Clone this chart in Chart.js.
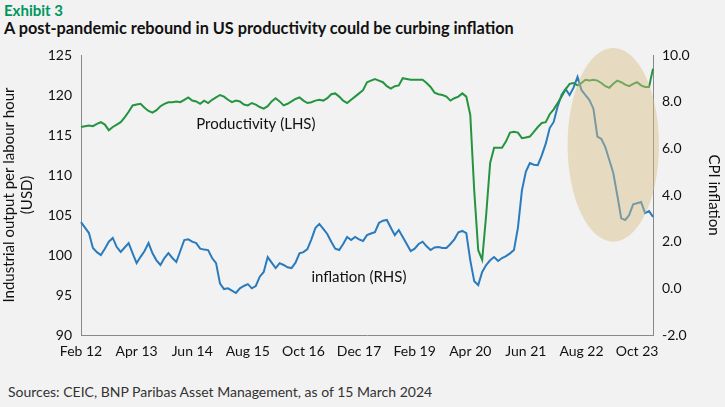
<!DOCTYPE html>
<html><head><meta charset="utf-8">
<script src="https://cdn.jsdelivr.net/npm/chart.js@4/dist/chart.umd.min.js"></script>
<style>
html,body{margin:0;padding:0;background:#f2f2f2;width:725px;height:407px;overflow:hidden;font-family:Lato,"Open Sans",sans-serif}
#t1{position:absolute;left:4px;top:1px;font-size:15px;font-weight:bold;color:#00965e}
#t2{position:absolute;left:4px;top:18px;font-size:16.3px;font-weight:bold;color:#111}
#src{position:absolute;left:8px;top:383px;font-size:14px;color:#333}
#wrap{position:absolute;left:0;top:40px;width:725px;height:330px}
</style></head><body>
<div id="t1">Exhibit 3</div>
<div id="t2">A post-pandemic rebound in US productivity could be curbing inflation</div>
<div id="wrap"><canvas id="c"></canvas></div>
<div id="src">Sources: CEIC, BNP Paribas Asset Management, as of 15 March 2024</div>
<script>
const monthNames=["Jan","Feb","Mar","Apr","May","Jun","Jul","Aug","Sep","Oct","Nov","Dec"];
const categories=[];
for(let i=0;i<145;i++){const m=(1+i)%12, y=12+Math.floor((1+i)/12);categories.push(monthNames[m]+" "+y);}
const productivity=[
116.0,116.1,116.2,116.1,116.4,116.6,116.3,115.6,116.0,116.3,
116.6,117.2,117.9,118.7,118.8,118.9,118.4,118.0,117.8,118.1,
118.6,118.9,119.1,119.1,119.2,119.1,119.4,119.7,119.3,119.2,
118.9,119.3,119.0,119.4,119.7,120.0,119.8,119.4,119.1,119.3,
119.2,118.8,118.7,119.0,118.8,118.5,118.3,118.6,119.2,119.6,
119.2,118.7,118.9,119.2,119.5,119.7,119.3,119.0,119.1,119.3,
119.4,119.3,119.6,120.1,120.2,119.8,119.3,119.0,119.4,119.8,
120.2,120.6,121.6,121.8,122.0,121.8,121.6,121.1,120.8,121.1,
121.2,122.1,122.0,121.9,121.9,121.9,121.9,121.5,121.0,120.3,
120.1,120.0,119.8,119.3,119.6,119.8,120.2,119.8,117.5,108.0,
100.6,99.4,105.0,111.5,113.4,113.4,113.4,114.2,115.3,115.4,
115.3,114.6,114.7,114.8,115.4,116.0,116.5,116.6,117.6,118.2,
119.0,119.8,120.7,121.4,121.5,121.2,121.5,121.9,121.8,121.9,
121.8,121.5,121.1,120.9,121.4,121.8,121.6,121.3,121.1,121.4,
121.6,121.2,121.0,121.0,123.3];
const inflation=[
2.84,2.6,2.37,1.73,1.55,1.43,1.7,2.0,2.16,1.77,
1.56,1.75,1.94,1.5,1.08,1.35,1.6,1.94,1.5,1.2,
1.0,1.3,1.51,1.3,1.13,1.6,2.07,2.1,2.0,1.94,
1.7,1.66,1.64,1.3,1.08,0.2,-0.03,0.0,-0.1,-0.2,
0.0,0.1,0.18,0.0,0.1,0.5,0.7,1.34,1.1,0.87,
1.08,1.0,0.9,0.87,1.1,1.5,1.55,1.68,2.1,2.58,
2.76,2.55,2.33,2.0,1.7,1.64,1.9,2.2,2.07,2.2,
2.1,2.03,2.28,2.35,2.41,2.8,2.9,2.93,2.6,2.28,
2.5,2.2,1.9,1.6,1.7,1.9,2.0,1.8,1.64,1.75,
1.77,1.73,1.73,1.9,2.1,2.4,2.46,2.37,1.2,0.3,
0.14,0.7,1.0,1.2,1.34,1.17,1.3,1.38,1.5,1.64,
2.6,4.2,5.0,5.37,5.3,5.28,5.7,6.2,6.87,7.13,
7.8,8.3,8.54,8.28,8.6,9.06,8.5,8.28,8.07,7.7,
6.5,6.4,6.05,5.5,4.94,4.0,3.0,2.93,3.14,3.6,
3.65,3.7,3.22,3.31,3.06];
const leftTicks=[90,95,100,105,110,115,120,125];
const rightTicks=[-2,0,2,4,6,8,10];

const overlay={id:'overlay',
 afterDatasetsDraw(ch){const {ctx,scales:{x,y,y2}}=ch;
  const cx=x.getPixelForValue(134), cy=y2.getPixelForValue(6.15);
  const rx=(x.getPixelForValue(145.5)-x.getPixelForValue(134)), ry=(y2.getPixelForValue(2.0)-cy);
  ctx.save();ctx.fillStyle='rgba(215,190,130,0.45)';ctx.beginPath();ctx.ellipse(cx,cy,rx,ry,0,0,Math.PI*2);ctx.fill();ctx.restore();
  ctx.save();ctx.font='15px Lato, "Open Sans", sans-serif';ctx.fillStyle='#111';ctx.textBaseline='middle';
  ctx.fillText('Productivity (LHS)',x.getPixelForValue(29),y.getPixelForValue(116.3));
  ctx.fillText('inflation (RHS)',x.getPixelForValue(58),y2.getPixelForValue(0.5));
  ctx.restore();}};

new Chart(document.getElementById('c'),{
 type:'line',
 data:{labels:categories,datasets:[
  {data:productivity,yAxisID:'y',borderColor:'#24943f',borderWidth:2,pointRadius:0,tension:0},
  {data:inflation,yAxisID:'y2',borderColor:'#2a7bbd',borderWidth:2,pointRadius:0,tension:0}]},
 options:{responsive:true,maintainAspectRatio:false,animation:false,
  layout:{padding:{top:15,left:0,right:0,bottom:0}},
  plugins:{legend:{display:false},tooltip:{enabled:false}},
  scales:{
   x:{offset:false,grid:{display:false,drawTicks:false},border:{color:'#888'},
      afterFit(s){s.height=35;},
      ticks:{autoSkip:false,maxRotation:0,color:'#111',font:{size:14,family:'Lato'},padding:8,
       callback:(v,i)=> i%14===0 && i<=140 ? categories[i] : null}},
   y:{position:'left',min:90,max:125,afterFit(s){s.width=81;},
      afterBuildTicks(s){s.ticks=leftTicks.map(v=>({value:v}));},
      grid:{display:false,drawTicks:true,tickLength:5,color:'#888'},border:{color:'#888'},
      ticks:{color:'#111',font:{size:14,family:'Lato'},padding:4},
      title:{display:true,text:['Industrial output per labour hour','(USD)'],color:'#111',font:{size:15,family:'Lato'},padding:0}},
   y2:{position:'right',min:-2,max:10,afterFit(s){s.width=72;},
      afterBuildTicks(s){s.ticks=rightTicks.map(v=>({value:v}));},
      grid:{display:false,drawOnChartArea:false,drawTicks:true,tickLength:5,color:'#888'},border:{color:'#888'},
      ticks:{color:'#111',font:{size:14,family:'Lato'},padding:4,callback:v=>v.toFixed(1)},
      title:{display:true,text:'CPI inflation',color:'#111',font:{size:15,family:'Lato'},padding:2}}
  }},
 plugins:[overlay]});
</script></body></html>
